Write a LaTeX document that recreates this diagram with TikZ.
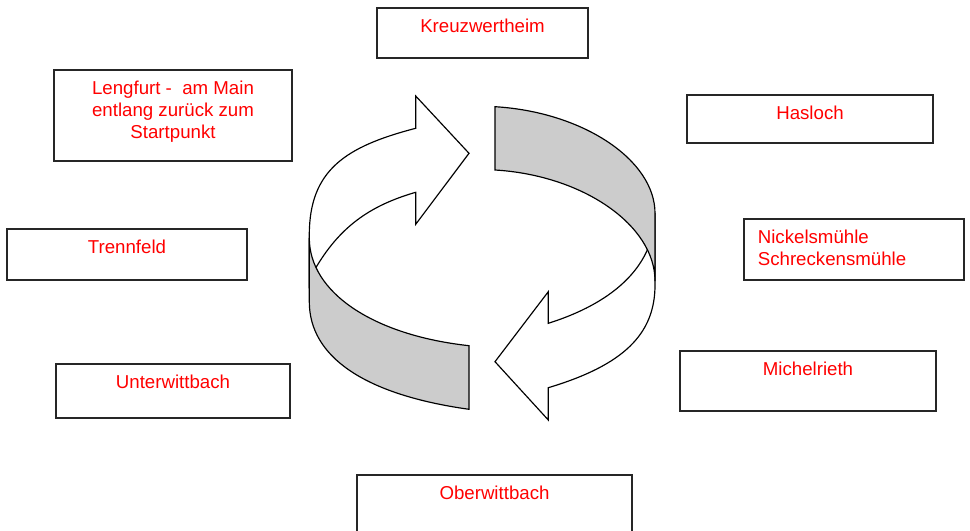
\documentclass[tikz,border=0pt]{standalone}
\usepackage{fontspec}
\setmainfont{Liberation Sans}
\usepackage{tikz}
\usetikzlibrary{positioning}
\definecolor{bandgray}{rgb}{0.8,0.8,0.8}
\tikzstyle{ort}=[%
      rectangle, draw=black!85, line width=0.8pt, fill=white, inner sep=0pt
]
\tikzstyle{ortname}=[%
      text=red, font=\fontsize{11.2pt}{13pt}\selectfont, inner sep=0pt, align=center
]
\tikzstyle{pfeil}=[%
      draw=black, line width=0.7pt, fill=white
]
\tikzstyle{band}=[%
      draw=black, line width=0.7pt, fill=bandgray
]

\begin{document}
\begin{tikzpicture}[x=0.6pt, y=-0.6pt, node distance=7pt]
    \useasboundingbox (0,0) rectangle (970,531);

    \node[ort, minimum width=126.6pt, minimum height=30pt]   (kreuz)  at (482.5,33)    {};
    \node[ort, minimum width=142.8pt, minimum height=54.6pt] (leng)   at (173,115.5)   {};
    \node[ort, minimum width=147.6pt, minimum height=28.8pt] (has)    at (810,119)     {};
    \node[ort, minimum width=144pt,   minimum height=30.6pt] (trenn)  at (127,254.5)   {};
    \node[ort, minimum width=132pt,   minimum height=36.6pt] (nick)   at (854,249.5)   {};
    \node[ort, minimum width=140.4pt, minimum height=32.4pt] (unter)  at (173,391)     {};
    \node[ort, minimum width=153.6pt, minimum height=36pt]   (michel) at (808,381)     {};
    \node[ort, minimum width=165pt,   minimum height=42pt]   (ober)   at (494.5,510)   {};

    \node[ortname, below=of kreuz.north]  (kreuztext)  {Kreuzwertheim};
    \node[ortname, below=of leng.north]   (lengtext)   {Lengfurt -~ am Main\\entlang zurück zum\\Startpunkt};
    \node[ortname, below=of has.north]    (hastext)    {Hasloch};
    \node[ortname, below=of trenn.north]  (trenntext)  {Trennfeld};
    \node[ortname, align=left, below right=7pt and 8.5pt of nick.north west] (nicktext) {Nickelsmühle\\Schreckensmühle};
    \node[ortname, below=of unter.north]  (untertext)  {Unterwittbach};
    \node[ortname, below=of michel.north] (micheltext) {Michelrieth};
    \node[ortname, below=of ober.north]   (obertext)   {Oberwittbach};

    % Pfeil oben links, dann Band unten links darueber
    \draw[pfeil] (415.7,128.3) -- (415.7,96) -- (469,153.3) -- (415.7,224.3) -- (415.7,192.3)
        .. controls (369,205.8) and (339,227.6) .. (314.5,270)
        -- (309.3,285) -- (309.3,235)
        .. controls (309.3,170) and (345.7,146.5) .. (415.7,128.3)
        -- cycle;
    \draw[band] (309.3,238)
        .. controls (309.3,292.1) and (372.6,335.1) .. (469,345.7)
        -- (469,409.3)
        .. controls (364.1,394.6) and (309.3,356.6) .. (309.3,301.7)
        -- cycle;

    % Pfeil unten rechts, dann Band oben rechts darueber
    \draw[pfeil] (548.3,323.3) -- (548.3,291.7) -- (495,361.7) -- (548.3,420) -- (548.3,387.7)
        .. controls (623,365.3) and (655,334.5) .. (655,285)
        -- (655,213)
        .. controls (655,262.8) and (617.7,301.4) .. (548.3,323.3)
        -- cycle;
    \draw[band] (495,106.7)
        .. controls (583,112) and (655,160) .. (655,213.3)
        -- (655,281)
        .. controls (655,225.2) and (583,175.3) .. (495,170)
        -- cycle;

\end{tikzpicture}
\end{document}
